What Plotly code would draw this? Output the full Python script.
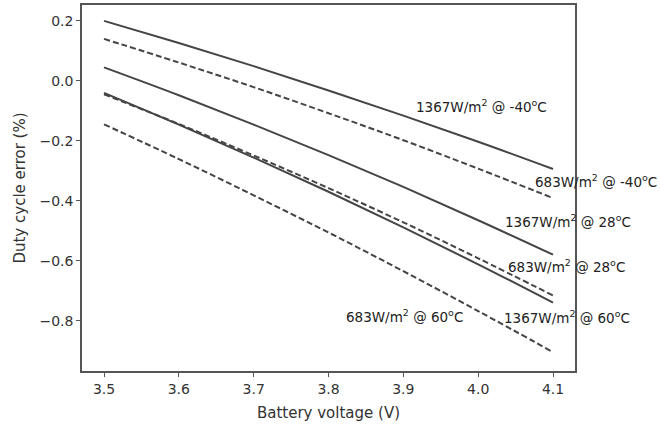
import plotly.graph_objects as go

voltage = [3.5, 3.6, 3.7, 3.8, 3.9, 4.0, 4.1]

s1367_m40 = [0.200, 0.126, 0.049, -0.032, -0.116, -0.203, -0.294]
s683_m40 = [0.140, 0.061, -0.021, -0.108, -0.198, -0.293, -0.391]
s1367_28 = [0.045, -0.048, -0.146, -0.248, -0.354, -0.465, -0.580]
s683_28 = [-0.045, -0.144, -0.249, -0.358, -0.472, -0.592, -0.716]
s1367_60 = [-0.040, -0.146, -0.256, -0.370, -0.489, -0.612, -0.740]
s683_60 = [-0.145, -0.261, -0.382, -0.506, -0.635, -0.768, -0.905]

series = [
    (s1367_m40, "solid"),
    (s683_m40, "dash"),
    (s1367_28, "solid"),
    (s683_28, "dash"),
    (s1367_60, "solid"),
    (s683_60, "dash"),
]

labels = [
    ("1367W/m<sup>2</sup> @ -40<sup>o</sup>C", 3.914, -0.083),
    ("683W/m<sup>2</sup> @ -40<sup>o</sup>C", 4.073, -0.335),
    ("1367W/m<sup>2</sup> @ 28<sup>o</sup>C", 4.033, -0.468),
    ("683W/m<sup>2</sup> @ 28<sup>o</sup>C", 4.037, -0.617),
    ("1367W/m<sup>2</sup> @ 60<sup>o</sup>C", 4.032, -0.789),
    ("683W/m<sup>2</sup> @ 60<sup>o</sup>C", 3.821, -0.786),
]

line_color = "#454545"
fig = go.Figure()
for ys, d in series:
    fig.add_trace(go.Scatter(
        x=voltage, y=ys, mode="lines",
        line=dict(color=line_color, width=2,
                  dash="solid" if d == "solid" else "6px,3px", shape="spline"),
        showlegend=False, hoverinfo="skip"))

for txt, xv, yv in labels:
    fig.add_annotation(x=xv, y=yv, text=txt, showarrow=False,
                       xanchor="left", yanchor="middle",
                       font=dict(family="DejaVu Sans", size=13.5, color="#222"))

axis_common = dict(showline=True, linecolor="#555", linewidth=1.5, mirror=True,
                   ticks="outside", ticklen=4, tickwidth=1.2, tickcolor="#555",
                   showgrid=False, zeroline=False,
                   tickfont=dict(family="DejaVu Sans", size=14, color="#333"))

fig.update_layout(
    width=660, height=429,
    margin=dict(l=82, r=85, t=3, b=58),
    plot_bgcolor="white", paper_bgcolor="white",
    xaxis=dict(range=[3.4706, 4.1294], tickvals=[3.5, 3.6, 3.7, 3.8, 3.9, 4.0, 4.1],
               tickformat=".1f",
               title=dict(text="Battery voltage (V)", standoff=12,
                          font=dict(family="DejaVu Sans", size=15, color="#333")),
               **axis_common),
    yaxis=dict(range=[-0.968, 0.253], tickvals=[-0.8, -0.6, -0.4, -0.2, 0.0, 0.2],
               tickformat=".1f",
               title=dict(text="Duty cycle error (%)", standoff=10,
                          font=dict(family="DejaVu Sans", size=15, color="#333")),
               **axis_common),
)

fig.write_html("out.html")
